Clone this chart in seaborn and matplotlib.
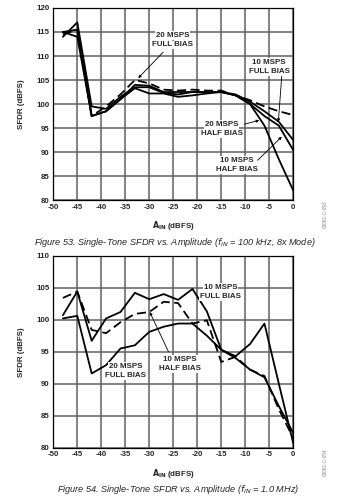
import numpy as np
import pandas as pd
import matplotlib
matplotlib.use("Agg")
import matplotlib.pyplot as plt
import seaborn as sns

sns.set_style("white")
plt.rcParams['font.family'] = ['Liberation Sans', 'DejaVu Sans']

# input amplitude steps (dBFS)
ain = [-48, -45, -42, -39, -36, -33, -30, -27, -24, -21, -18, -15, -12, -9, -6, -3, 0]

# Figure 53 - fIN = 100 kHz, 8x mode
top_20_full = [114.5, 115.5, 97.5, 99.5, 102.0, 105.0, 104.3, 103.0, 102.8, 103.0, 102.8, 102.8, 101.8, 100.8, 99.5, 98.5, 97.7]
top_10_full = [115.0, 114.0, 97.5, 98.5, 101.0, 104.0, 103.8, 102.5, 102.5, 102.5, 102.5, 102.5, 102.0, 100.5, 98.5, 96.3, 92.5]
top_20_half = [114.0, 117.0, 99.5, 99.0, 101.5, 103.5, 103.5, 102.3, 102.0, 102.5, 102.5, 102.5, 101.8, 100.0, 95.5, 88.5, 82.0]
top_10_half = [115.0, 115.5, 97.5, 98.5, 101.0, 103.3, 102.2, 102.2, 101.5, 101.8, 102.2, 102.5, 101.8, 100.0, 97.5, 95.5, 90.4]

# Figure 54 - fIN = 1.0 MHz
bot_10_full = [100.7, 104.4, 96.7, 100.2, 101.2, 104.2, 103.2, 104.0, 103.1, 104.8, 101.3, 95.3, 94.3, 96.2, 99.4, 90.0, 80.7]
bot_20_full = [100.2, 100.6, 91.6, 92.9, 95.5, 96.0, 98.1, 98.9, 99.4, 99.4, 97.5, 95.3, 94.0, 92.2, 91.0, 86.5, 82.3]
bot_10_half = [103.4, 104.4, 98.4, 97.9, 99.6, 100.9, 101.2, 102.8, 102.6, 99.4, 99.9, 93.4, 94.2, 92.2, 91.2, 86.0, 81.5]

top_df = pd.DataFrame({"ain": ain * 4,
                       "sfdr": top_20_full + top_10_full + top_20_half + top_10_half,
                       "series": ["20F"] * 17 + ["10F"] * 17 + ["20H"] * 17 + ["10H"] * 17})
bot_df = pd.DataFrame({"ain": ain * 3,
                       "sfdr": bot_10_full + bot_20_full + bot_10_half,
                       "series": ["10F"] * 17 + ["20F"] * 17 + ["10H"] * 17})

fig = plt.figure(figsize=(3.56, 4.99), dpi=100)
ax1 = fig.add_axes([0.1497, 0.599, 0.674, 0.385])
ax2 = fig.add_axes([0.1497, 0.1028, 0.674, 0.3848])

grid_col = "#606060"
tick_font = dict(fontsize=5.7, fontweight="bold")


def style_axes(ax, ylo, yhi):
    ax.set_xlim(-50, 0)
    ax.set_ylim(ylo, yhi)
    ax.set_xticks(range(-50, 1, 5))
    ax.set_yticks(range(ylo, yhi + 1, 5))
    ax.set_xticklabels([str(v) for v in range(-50, 1, 5)], **tick_font)
    ax.set_yticklabels([str(v) for v in range(ylo, yhi + 1, 5)], **tick_font)
    ax.grid(True, color=grid_col, lw=1.1)
    ax.set_axisbelow(True)
    for s in ax.spines.values():
        s.set_color("black")
        s.set_linewidth(0.9)
    ax.tick_params(length=0, pad=2.5)
    ax.set_xlabel(r"$\mathbf{A_{IN}}$ (dBFS)", fontsize=5.7, fontweight="bold", labelpad=6)
    ax.set_ylabel("SFDR (dBFS)", fontsize=5.7, fontweight="bold", labelpad=8)


def label(ax, x, y, lines, dy):
    # each text line has its own white box, hiding the grid behind it
    for i, t in enumerate(lines):
        ax.text(x, y - i * dy, t, ha="center", va="center", fontsize=5.7, fontweight="bold",
                zorder=5, bbox=dict(facecolor="white", edgecolor="none", pad=0.6))


def arrow(ax, start, end):
    ax.annotate("", xy=end, xytext=start, zorder=6,
                arrowprops=dict(arrowstyle="-|>", color="black", lw=0.6,
                                mutation_scale=4, shrinkA=0, shrinkB=0))


# ---- top chart
for name, ls in [("20F", (0, (5, 2.5))), ("10F", "-"), ("20H", "-"), ("10H", "-")]:
    sub = top_df[top_df.series == name]
    sns.lineplot(data=sub, x="ain", y="sfdr", ax=ax1, color="black", lw=1.3,
                 linestyle=ls, zorder=3)
style_axes(ax1, 80, 120)

label(ax1, -25.1, 114.3, ["20 MSPS", "FULL BIAS"], 2.0)
arrow(ax1, (-27.1, 110.8), (-32.3, 105.4))
label(ax1, -5.0, 108.7, ["10 MSPS", "FULL BIAS"], 2.0)
arrow(ax1, (-2.4, 105.8), (-3.1, 96.3))
label(ax1, -14.9, 95.8, ["20 MSPS", "HALF BIAS"], 2.0)
arrow(ax1, (-10.2, 95.8), (-7.1, 96.6))
label(ax1, -11.8, 88.3, ["10 MSPS", "HALF BIAS"], 2.0)
arrow(ax1, (-7.4, 88.3), (-2.4, 93.2))

# ---- bottom chart
for name, ls in [("10F", "-"), ("20F", "-"), ("10H", (0, (5, 2.5)))]:
    sub = bot_df[bot_df.series == name]
    sns.lineplot(data=sub, x="ain", y="sfdr", ax=ax2, color="black", lw=1.3,
                 linestyle=ls, zorder=3)
style_axes(ax2, 80, 110)

label(ax2, -15.1, 105.0, ["10 MSPS", "FULL BIAS"], 1.4)
label(ax2, -35.0, 92.7, ["20 MSPS", "FULL BIAS"], 1.4)
label(ax2, -23.6, 93.8, ["10 MSPS", "HALF BIAS"], 1.4)
arrow(ax2, (-26.0, 95.0), (-29.9, 101.2))

# captions
fig.text(0.49, 1 - 243 / 499, r"Figure 53. Single-Tone SFDR vs. Amplitude ($f_{IN}$ = 100 kHz, 8x Mode)",
         ha="center", va="center", fontsize=6.6, style="italic")
fig.text(0.501, 1 - 489 / 499, r"Figure 54. Single-Tone SFDR vs. Amplitude ($f_{IN}$ = 1.0 MHz)",
         ha="center", va="center", fontsize=6.6, style="italic")

# document ids
fig.text(325 / 356, 1 - 214 / 499, "03081-C-053", rotation=90, ha="center", va="center",
         fontsize=3.4, color="#7a86a8")
fig.text(325 / 356, 1 - 462 / 499, "03081-C-054", rotation=90, ha="center", va="center",
         fontsize=3.4, color="#7a86a8")

fig.savefig("out.png", dpi=100)
